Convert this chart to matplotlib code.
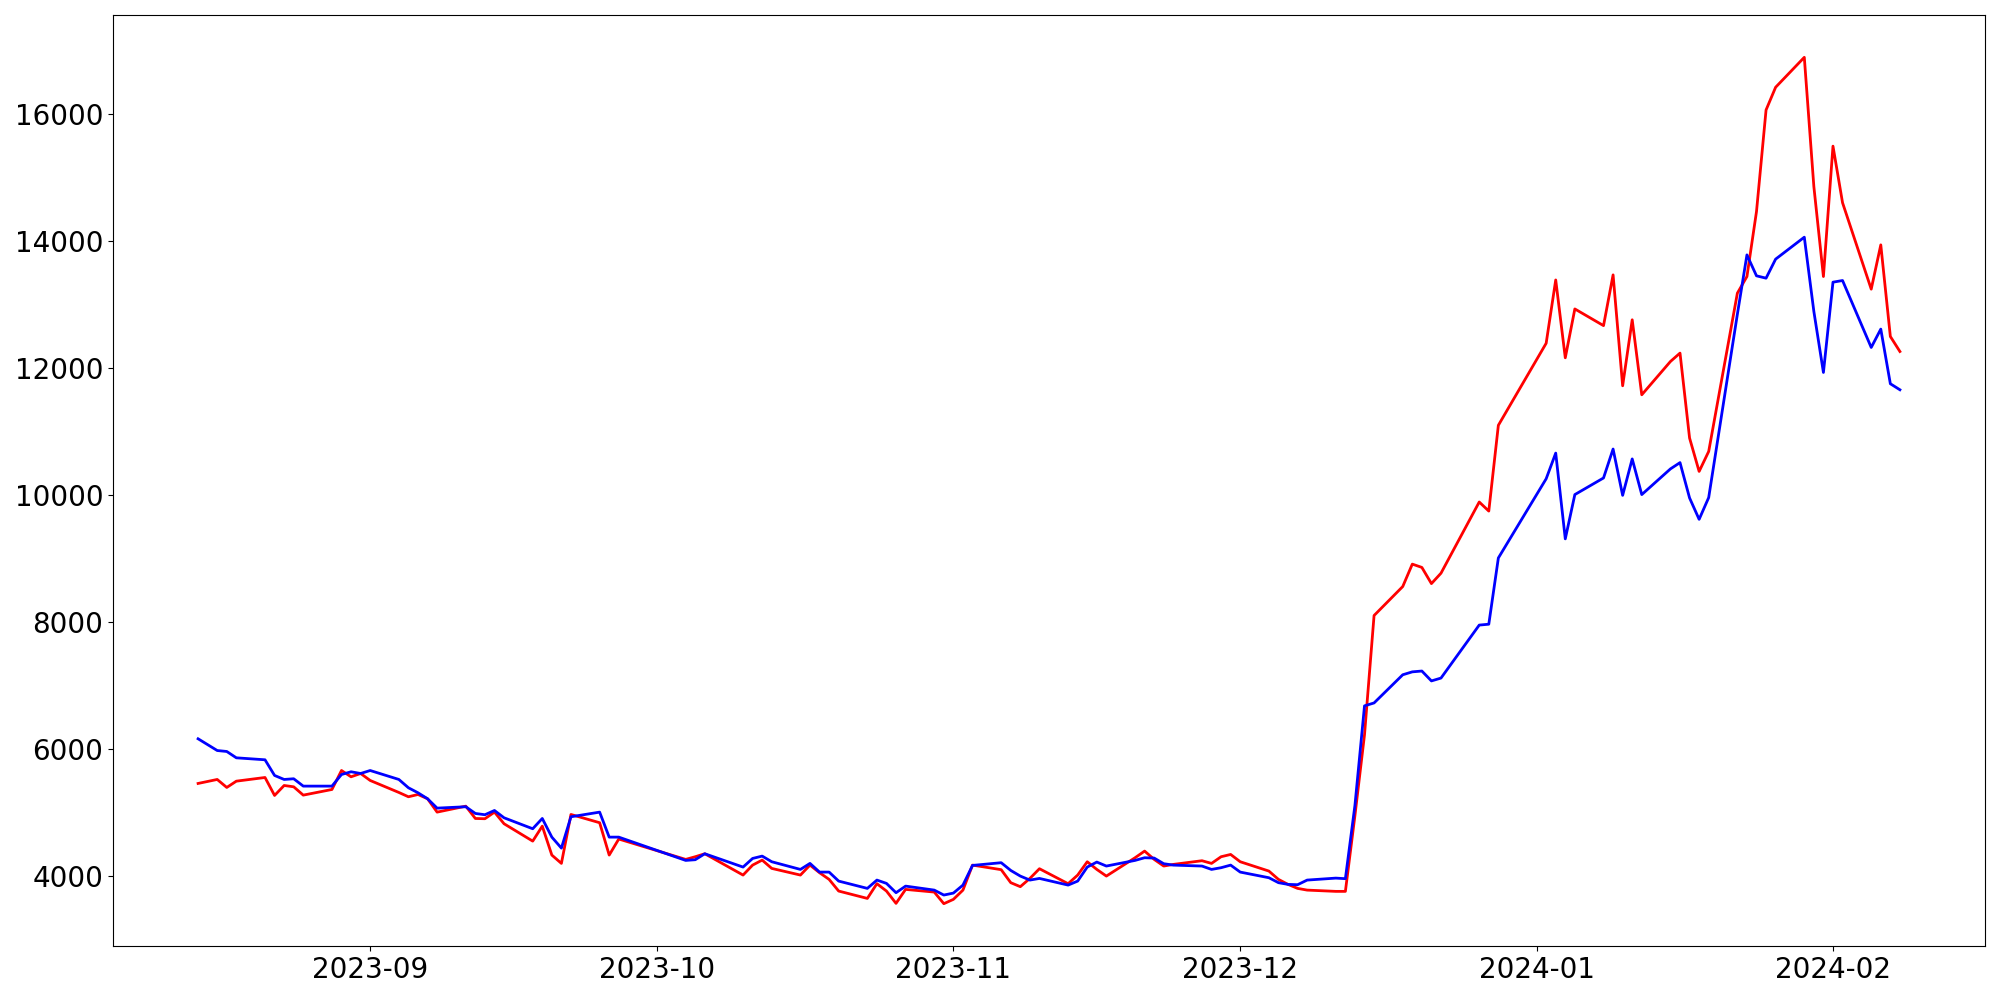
import matplotlib
matplotlib.use("Agg")
import matplotlib.pyplot as plt
import matplotlib.dates as mdates
import pandas as pd

holidays = ["2023-08-15", "2023-09-28", "2023-09-29", "2023-10-02", "2023-10-03",
            "2023-10-09", "2023-12-25", "2023-12-29", "2024-01-01"]
dates = pd.bdate_range("2023-08-14", "2024-02-08", freq="C", holidays=holidays)

red_values = [
    # Aug
    5454, 5517, 5391, 5490, 5548, 5265, 5422, 5401, 5270, 5359, 5658, 5559, 5611,
    # Sep
    5501, 5312, 5244, 5280, 5213, 5002, 5096, 4902, 4898, 5002, 4819, 4545, 4781,
    4325, 4194, 4965, 4835, 4325, 4578,
    # Oct
    4257, 4299, 4346, 4010, 4167, 4246, 4115, 4010, 4167, 4047, 3942, 3758, 3642,
    3874, 3758, 3564, 3784, 3742, 3559,
    # Nov
    3627, 3773, 4167, 4095, 3890, 3827, 3957, 4110, 3874, 4010, 4220, 4099, 3994,
    4283, 4388, 4257, 4152, 4178, 4236, 4194, 4299, 4335,
    # Dec
    4220, 4073, 3942, 3863, 3800, 3773, 3753, 3753, 4950, 6221, 8101, 8558, 8911,
    8859, 8604, 8768, 9890, 9747, 11099,
    # Jan
    12392, 13390, 12163, 12933, 12670, 13470, 11722, 12762, 11580, 12105, 12237,
    10898, 10372, 10687, 13182, 13444, 14468, 16069, 16427, 16899, 14861, 13444,
    # Feb
    15499, 14607, 13245, 13943, 12499, 12262,
]

blue_values = [
    # Aug
    6158, 5973, 5958, 5858, 5827, 5580, 5517, 5528, 5412, 5412, 5595, 5638, 5611,
    # Sep
    5658, 5517, 5386, 5307, 5213, 5065, 5087, 4981, 4961, 5028, 4913, 4740, 4902,
    4608, 4435, 4929, 5002, 4608, 4608,
    # Oct
    4241, 4252, 4346, 4136, 4272, 4309, 4220, 4099, 4194, 4057, 4057, 3915, 3800,
    3931, 3879, 3732, 3836, 3773, 3695,
    # Nov
    3726, 3852, 4162, 4205, 4083, 3994, 3931, 3957, 3852, 3915, 4136, 4215, 4152,
    4241, 4283, 4278, 4189, 4167, 4152, 4099, 4126, 4167,
    # Dec
    4057, 3968, 3890, 3863, 3858, 3931, 3962, 3953, 5110, 6677, 6723, 7167, 7213,
    7226, 7070, 7115, 7950, 7964, 9008,
    # Jan
    10256, 10661, 9309, 10007, 10269, 10725, 9995, 10569, 10007, 10412, 10511,
    9954, 9617, 9960, 12850, 13785, 13455, 13418, 13718, 14064, 12893, 11932,
    # Feb
    13355, 13381, 12326, 12615, 11754, 11659,
]

plt.rcParams["font.size"] = 20
fig = plt.figure(figsize=(20, 10), dpi=100)
ax = fig.add_axes([0.0565, 0.054, 0.936, 0.931])
ax.plot(dates, red_values, color="red", linewidth=2)
ax.plot(dates, blue_values, color="blue", linewidth=2)
ax.xaxis.set_major_locator(mdates.MonthLocator())
ax.xaxis.set_major_formatter(mdates.DateFormatter("%Y-%m"))
fig.savefig("out.png", dpi=100)
